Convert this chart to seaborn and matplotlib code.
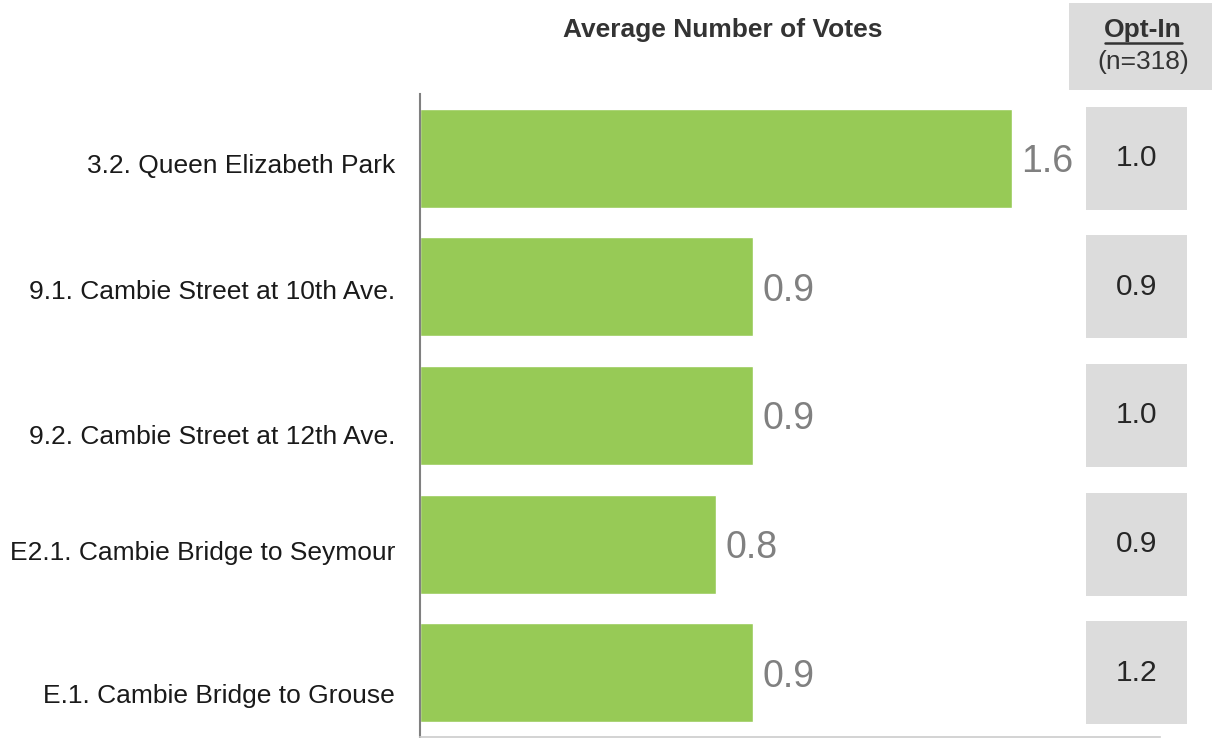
import matplotlib
matplotlib.use("Agg")
import matplotlib.pyplot as plt
import seaborn as sns
from matplotlib.patches import Rectangle
from matplotlib.lines import Line2D

locations = ["3.2. Queen Elizabeth Park", "9.1. Cambie Street at 10th Ave.",
             "9.2. Cambie Street at 12th Ave.", "E2.1. Cambie Bridge to Seymour",
             "E.1. Cambie Bridge to Grouse"]
avg_votes = [1.6, 0.9, 0.9, 0.8, 0.9]
opt_in = [1.0, 0.9, 1.0, 0.9, 1.2]
opt_in_n = 318

sns.set_theme(style="white")
plt.rcParams['font.family'] = ['Liberation Sans', 'DejaVu Sans']

fig = plt.figure(figsize=(12.12, 7.38), dpi=100)
ax = fig.add_axes([420 / 1212, 1 / 738, 740 / 1212, 643 / 738])

sns.barplot(x=avg_votes, y=locations, color='#97CA56', saturation=1, width=0.77, ax=ax)
ax.set_xlim(0, 2.0)
ax.set_ylim(4.5, -0.5)

# labels in the original sit a little below the bar centres
label_shift = [0.04, 0.02, 0.15, 0.05, 0.16]
ax.set_yticks([i + s for i, s in enumerate(label_shift)])
ax.set_yticklabels(locations, fontsize=19, color='#1a1a1a')
ax.tick_params(axis='y', length=0, pad=18)
ax.set_xticks([])
ax.set_xlabel('')
ax.set_ylabel('')

for s in ['top', 'right']:
    ax.spines[s].set_visible(False)
ax.spines['left'].set_color('#808080')
ax.spines['left'].set_linewidth(1.5)
ax.spines['bottom'].set_color('#cccccc')
ax.spines['bottom'].set_linewidth(1.2)

for i, v in enumerate(avg_votes):
    ax.text(v + 0.025, i + 0.03, f"{v:.1f}", va='center', ha='left',
            fontsize=27, color='#808080')

# Opt-In column
ax2 = fig.add_axes([1086 / 1212, 1 / 738, 101 / 1212, 643 / 738], sharey=ax)
ax2.set_xlim(0, 1)
ax2.axis('off')
for i, v in enumerate(opt_in):
    ax2.add_patch(Rectangle((0, i - 0.4), 1, 0.8, color='#dcdcdc', lw=0))
    ax2.text(0.5, i, f"{v:.1f}", ha='center', va='center', fontsize=21.5, color='#262626')

fig.add_artist(Rectangle((1069 / 1212, 1 - 90 / 738), 143 / 1212, 87 / 738,
                         transform=fig.transFigure, color='#dcdcdc', lw=0))
fig.text(1143 / 1212, 1 - 30 / 738, "Opt-In", ha='center', va='center',
         fontsize=19, fontweight='bold', color='#333333')
fig.add_artist(Line2D([1105 / 1212, 1182 / 1212], [1 - 43 / 738, 1 - 43 / 738],
                      transform=fig.transFigure, color='#333333', lw=1.8))
fig.text(1143 / 1212, 1 - 62 / 738, f"(n={opt_in_n})", ha='center', va='center',
         fontsize=19, color='#333333')

fig.text(723 / 1212, 1 - 30 / 738, "Average Number of Votes", ha='center', va='center',
         fontsize=19, fontweight='bold', color='#333333')

fig.savefig("out.png", dpi=100)
